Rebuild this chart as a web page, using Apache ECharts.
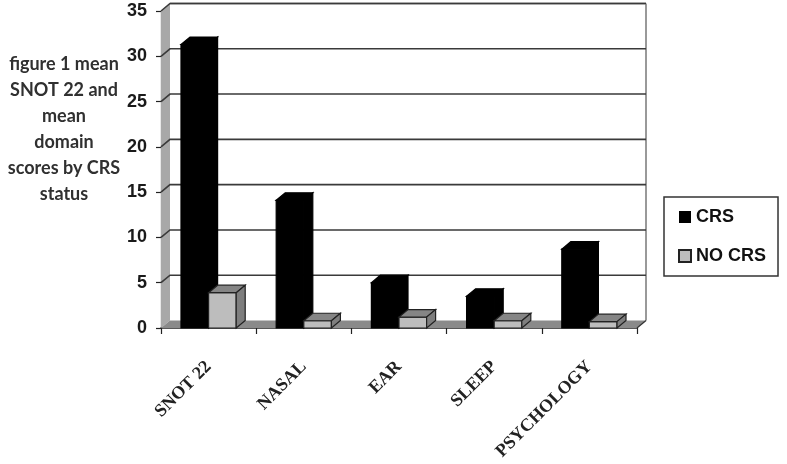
<!DOCTYPE html>
<html><head><meta charset="utf-8">
<style>html,body{margin:0;padding:0;background:#fff}#c{width:787px;height:464px}</style>
<script src="https://cdn.jsdelivr.net/npm/echarts@6/dist/echarts.min.js"></script>
</head><body><div id="c"></div>
<script>
var categories = ['SNOT 22','NASAL','EAR','SLEEP','PSYCHOLOGY'];
var crs = [31.3,14.1,5.0,3.5,8.7];
var noCrs = [3.9,0.8,1.2,0.8,0.7];
var yTicks = [0,5,10,15,20,25,30,35];
var titleLines = ['figure 1 mean','SNOT 22 and','mean','domain','scores by CRS','status'];
var DX = 9, DY = -7.5;

function poly(pts, fill, stroke){
  return {type:'polygon',shape:{points:pts},style:{fill:fill,stroke:stroke,lineWidth:stroke?1.2:0}};
}
function barItem(side, front, top, sideCol, edge){
  return function(params, api){
    var cat = api.value(0), v = api.value(1);
    var base = api.coord([cat,0]), t = api.coord([cat,v]);
    var w = api.size([1,0])[0]*0.29;
    var x0 = side<0 ? base[0]-w : base[0], x1 = x0+w, yb = base[1], yt = t[1];
    return {type:'group',children:[
      poly([[x0,yb],[x1,yb],[x1,yt],[x0,yt]],front,edge),
      poly([[x0,yt],[x0+DX,yt+DY],[x1+DX,yt+DY],[x1,yt]],top,edge),
      poly([[x1,yb],[x1+DX,yb+DY],[x1+DX,yt+DY],[x1,yt]],sideCol,edge)
    ]};
  };
}
var chart = echarts.init(document.getElementById('c'));
chart.setOption({
  animation:false,
  backgroundColor:'#fff',
  title:{
    text:titleLines.join('\n'),left:59,top:46,textAlign:'center',
    textStyle:{fontFamily:'Lato',fontWeight:'bold',fontSize:18,lineHeight:26,color:'#303030'}
  },
  legend:{
    left:664,top:197,orient:'vertical',
    padding:[11,12,11,14],itemGap:21,itemWidth:12,itemHeight:12,
    borderColor:'#333',borderWidth:1.5,
    data:[{name:'CRS',icon:'rect'},{name:'NO CRS',icon:'rect'}],
    textStyle:{fontFamily:'Liberation Sans',fontWeight:'bold',fontSize:18,color:'#111'}
  },
  grid:{left:161,right:150,top:11,bottom:136,outerBoundsMode:'none'},
  xAxis:{
    type:'category',data:categories,
    axisLine:{show:true,lineStyle:{color:'#222',width:1.5}},
    axisTick:{show:true,length:6,lineStyle:{color:'#222',width:1.2}},
    axisLabel:{rotate:45,margin:36,interval:0,fontFamily:'Liberation Serif',fontWeight:'bold',fontSize:18,color:'#222'}
  },
  yAxis:{
    type:'value',min:0,max:35,interval:5,
    axisLine:{show:true,lineStyle:{color:'#222',width:1.2}},
    axisTick:{show:true,length:5,lineStyle:{color:'#222',width:1.2}},
    splitLine:{show:false},
    axisLabel:{margin:14,fontFamily:'Liberation Sans',fontWeight:'bold',fontSize:18,color:'#1a1a1a'}
  },
  series:[
    {type:'custom',coordinateSystem:'cartesian2d',silent:true,z:1,clip:false,
     encode:{x:0,y:1},data:[[0,0]],
     legendHoverLink:false,
     renderItem:function(params,api){
       var a = api.coord([0,0]), b = api.coord([0,35]);
       var w = api.size([1,0])[0]*categories.length;
       a = [a[0]-w/(2*categories.length),a[1]]; b = [a[0],b[1]];
       var r = a[0]+w;
       return {type:'group',children:[
         poly([[a[0],a[1]],[a[0]+DX,a[1]+DY],[a[0]+DX,b[1]+DY],[a[0],b[1]]],'#a8a8a8',null),
         poly([[a[0],a[1]],[a[0]+DX,a[1]+DY],[r+DX,a[1]+DY],[r,a[1]]],'#8a8a8a',null),
         {type:'line',shape:{x1:a[0]+DX,y1:b[1]+DY,x2:r+DX,y2:b[1]+DY},style:{stroke:'#444',lineWidth:1.5}},
         {type:'line',shape:{x1:r+DX,y1:b[1]+DY,x2:r+DX,y2:a[1]+DY},style:{stroke:'#999',lineWidth:2}},
         {type:'line',shape:{x1:r,y1:a[1],x2:r+DX,y2:a[1]+DY},style:{stroke:'#333',lineWidth:1.2}}
       ]};
     }},
    {type:'custom',coordinateSystem:'cartesian2d',silent:true,z:1,clip:false,
     encode:{x:0,y:1},data:yTicks.slice(1).map(function(t){return [0,t];}),
     renderItem:function(params,api){
       var c = api.coord([0,api.value(1)]);
       var w = api.size([1,0])[0];
       var x = c[0]-w/2, r = x+w*categories.length, y = c[1];
       return {type:'group',children:[
         {type:'polyline',shape:{points:[[x,y],[x+DX,y+DY],[r+DX,y+DY]]},style:{fill:null,stroke:'#3a3a3a',lineWidth:1.6}}
       ]};
     }},
    {name:'CRS',type:'custom',coordinateSystem:'cartesian2d',z:2,clip:false,
     encode:{x:0,y:1},itemStyle:{color:'#000'},
     data:crs.map(function(v,i){return [i,v];}),
     renderItem:barItem(-1,'#000','#000','#000','#000')},
    {name:'NO CRS',type:'custom',coordinateSystem:'cartesian2d',z:3,clip:false,
     encode:{x:0,y:1},itemStyle:{color:'#bdbdbd',borderColor:'#222',borderWidth:1.5},
     data:noCrs.map(function(v,i){return [i,v];}),
     renderItem:barItem(1,'#bdbdbd','#858585','#7e7e7e','#222')}
  ]
});
</script></body></html>
